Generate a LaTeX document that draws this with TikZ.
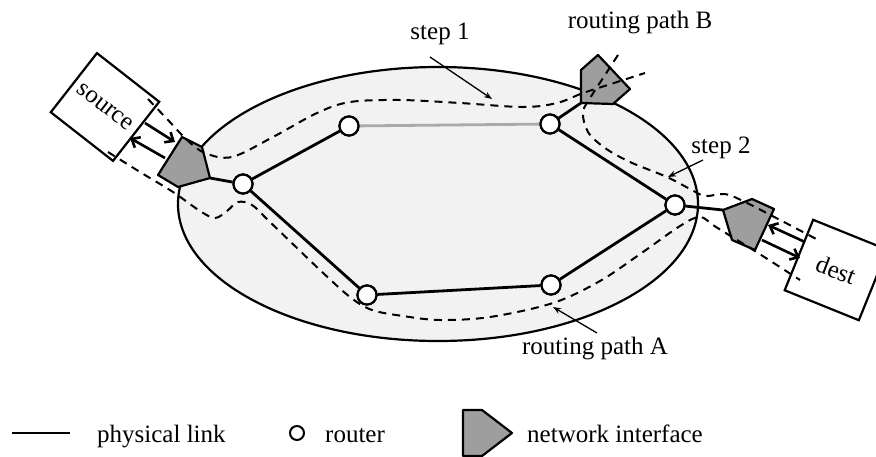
\documentclass[tikz,border=0pt]{standalone}
\usepackage{fontspec}
\setmainfont{Liberation Serif}
\usetikzlibrary{arrows.meta}
\definecolor{netfill}{RGB}{242,242,242}
\definecolor{nigrey}{RGB}{158,158,158}
\definecolor{idlelink}{RGB}{170,170,170}
\begin{document}
\begin{tikzpicture}[x=1pt,y=-1pt,
  lbl/.style={font=\fontsize{25}{28}\selectfont, inner sep=0pt},
  link/.style={line width=2.8pt},
  router/.style={circle, draw, fill=white, line width=2.2pt, minimum size=19pt, inner sep=0pt},
  route/.style={line width=2pt, dash pattern=on 8pt off 6pt},
  nif/.style={draw, fill=nigrey, line width=2.2pt, line join=round},
  hostbox/.style={draw, fill=white, line width=2.2pt, inner sep=0pt,
    font=\fontsize{25}{28}\selectfont},
  hostarrow/.style={line width=2.6pt, -{Straight Barb[length=7pt,width=12pt]}},
  callout/.style={line width=1.3pt, -{Stealth[length=8pt,width=6pt]}}
]
\useasboundingbox (0,0) rectangle (876,456);

% network area
\draw[fill=netfill, line width=2.2pt] (438,204) ellipse [x radius=260, y radius=137];

% routers
\node[router] (r1) at (243,184) {};
\node[router] (r2) at (349,126) {};
\node[router] (r3) at (550,124) {};
\node[router] (r4) at (675,205) {};
\node[router] (r5) at (367,295) {};
\node[router] (r6) at (551,285) {};

% attachment points of the network interfaces
\coordinate (nsrc) at (210,178);
\coordinate (nb) at (581,103);
\coordinate (ndst) at (723,210);

% physical links
\draw[link] (nsrc) -- (r1);
\draw[link] (r1) -- (r2);
\draw[link, idlelink] (r2) -- (r3);
\draw[link] (r3) -- (r4);
\draw[link] (r1) -- (r5);
\draw[link] (r5) -- (r6);
\draw[link] (r6) -- (r4);
\draw[link] (nb) -- (r3);
\draw[link] (r4) -- (ndst);
\foreach \r in {r1,r2,r3,r4,r5,r6} \node[router] at (\r) {};

% hosts
\node[hostbox, rotate=-38, minimum width=79pt, minimum height=75pt] (src) at (105,107) {};
\node[font=\fontsize{25}{28}\selectfont, rotate=-38, inner sep=0pt] (srctext) at (src.center) {source};
\node[hostbox, rotate=-22, minimum width=80pt, minimum height=76pt] (dst) at (836,270) {};
\node[font=\fontsize{25}{28}\selectfont, rotate=-21, inner sep=0pt] (dsttext) at (dst.center) {dest};

% network interfaces
\draw[nif] (182,137) -- (202,147) -- (nsrc) -- (178,187) -- (158,175) -- cycle;
\draw[nif] (598,55) -- (630,89) -- (613,104) -- (nb) -- (581,70) -- cycle;
\draw[nif] (ndst) -- (752,199) -- (774,209) -- (755,250) -- (732,240) -- cycle;

% routing paths
\draw[route] plot[smooth, tension=0.55] coordinates {
  (148,99) (168,120) (187,140) (205,153) (232,157) (273,137) (317,113)
  (350,102) (400,100) (460,103) (523,107) (557,103) (583,93) (614,83) (645,73)};
\draw[route] plot[smooth, tension=0.55] coordinates {
  (618,55) (605,75) (592,95) (583,112) (588,132) (605,148) (630,162)
  (667,177) (690,189) (705,196) (725,194) (745,202) (782,221) (820,241)};
\draw[route] plot[smooth, tension=0.55] coordinates {
  (108,152) (140,172) (173,192) (200,211) (215,218) (227,211) (238,202)
  (252,205) (270,222) (320,270) (350,297) (372,310) (403,316) (440,320)
  (490,317) (553,303) (600,281) (643,252) (680,226) (700,217) (716,227)
  (758,253) (800,280)};

% host <-> interface transfers
\coordinate (sa1) at (145,123); \coordinate (sa2) at (175,142);
\coordinate (sb1) at (165,158); \coordinate (sb2) at (130,138);
\draw[hostarrow] (sa1) -- (sa2);
\draw[hostarrow] (sb1) -- (sb2);
\coordinate (da1) at (805,242); \coordinate (da2) at (768,225);
\coordinate (db1) at (762,240); \coordinate (db2) at (800,258);
\draw[hostarrow] (da1) -- (da2);
\draw[hostarrow] (db1) -- (db2);

% labels
\node[lbl, anchor=base] (step1) at (440,39) {step 1};
\node[lbl, anchor=base] (pathB) at (640,28) {routing path B};
\node[lbl, anchor=base] (step2) at (721,153) {step 2};
\node[lbl, anchor=base] (pathA) at (595,354) {routing path A};
\coordinate (s1a) at (430,57); \coordinate (s1b) at (492,99);
\coordinate (s2a) at (703,160); \coordinate (s2b) at (668,177);
\coordinate (pAa) at (597,333); \coordinate (pAb) at (553,307);
\draw[callout] (s1a) -- (s1b);
\draw[callout] (s2a) -- (s2b);
\draw[callout] (pAa) -- (pAb);

% legend
\coordinate (lg1) at (12,433); \coordinate (lg2) at (70,433);
\draw[link] (lg1) -- (lg2);
\node[lbl, anchor=base west] (lgl) at (97,442) {physical link};
\node[circle, draw, fill=white, line width=2pt, minimum size=14pt, inner sep=0pt] (lgr) at (297,433) {};
\node[lbl, anchor=base west] (lgrt) at (325,442) {router};
\draw[nif] (463,410) -- (482,410) -- (512,433) -- (482,456) -- (463,456) -- cycle;
\node[lbl, anchor=base west] (lgn) at (527,442) {network interface};
\end{tikzpicture}
\end{document}
